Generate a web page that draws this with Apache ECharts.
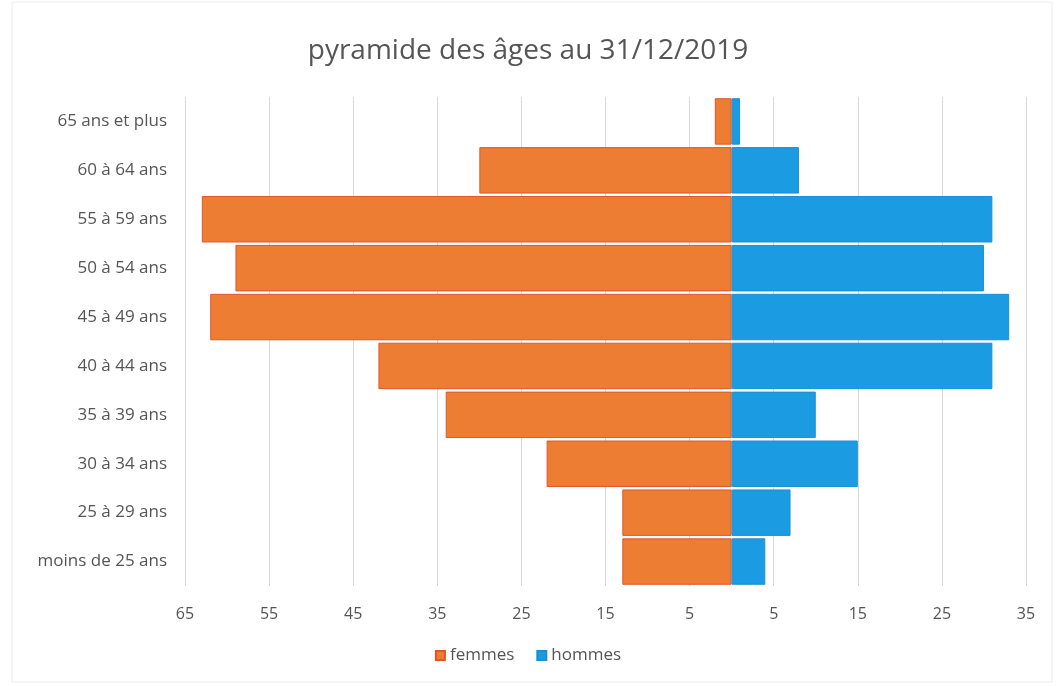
<!DOCTYPE html>
<html>
<head>
<meta charset="utf-8">
<script src="https://cdn.jsdelivr.net/npm/echarts@6/dist/echarts.min.js"></script>
<style>html,body{margin:0;padding:0;background:#fff;}#c{width:1056px;height:686px;}</style>
</head>
<body>
<div id="c"></div>
<script>
const categories = ['moins de 25 ans','25 à 29 ans','30 à 34 ans','35 à 39 ans','40 à 44 ans','45 à 49 ans','50 à 54 ans','55 à 59 ans','60 à 64 ans','65 ans et plus'];
const femmes = [13, 13, 22, 34, 42, 62, 59, 63, 30, 2];
const hommes = [4, 7, 15, 10, 31, 33, 30, 31, 8, 1];
const titleText = 'pyramide des âges au 31/12/2019';

const chart = echarts.init(document.getElementById('c'));
chart.setOption({
  backgroundColor: '#ffffff',
  animation: false,
  textStyle: { fontFamily: '"Open Sans", sans-serif' },
  title: {
    text: titleText, left: 'center', top: 32,
    textStyle: { fontFamily: '"Open Sans", sans-serif', fontSize: 28, fontWeight: 'normal', color: '#555555' }
  },
  legend: {
    bottom: 17, left: 'center', itemWidth: 9, itemHeight: 9, itemGap: 22, icon: 'rect',
    textStyle: { fontSize: 17, color: '#555555' },
    data: ['femmes', 'hommes']
  },
  graphic: [{
    type: 'rect', shape: { x: 12, y: 2, width: 1040, height: 680 },
    style: { fill: 'none', stroke: '#ececec', lineWidth: 1 }, silent: true, z: -1
  }],
  grid: { left: 185, right: 30, top: 97, bottom: 100, containLabel: false },
  xAxis: {
    type: 'value', min: -65, max: 35, interval: 10,
    axisLine: { show: false }, axisTick: { show: false },
    splitLine: { show: true, lineStyle: { color: '#d9d9d9', width: 1 } },
    axisLabel: { formatter: v => Math.abs(v), fontSize: 16, color: '#555555', margin: 20 }
  },
  yAxis: {
    type: 'category', data: categories,
    axisLine: { show: false }, axisTick: { show: false },
    axisLabel: { fontSize: 17, color: '#555555', margin: 18 }
  },
  series: [
    {
      name: 'femmes', type: 'bar', stack: 'total', barCategoryGap: '5%',
      data: femmes.map(v => -v),
      itemStyle: { color: '#EC7D33', borderColor: '#E0562B', borderWidth: 1 }
    },
    {
      name: 'hommes', type: 'bar', stack: 'total', barCategoryGap: '5%',
      data: hommes,
      itemStyle: { color: '#1B9BE2', borderColor: '#1A8FD6', borderWidth: 1 }
    }
  ]
});
</script>
</body>
</html>
